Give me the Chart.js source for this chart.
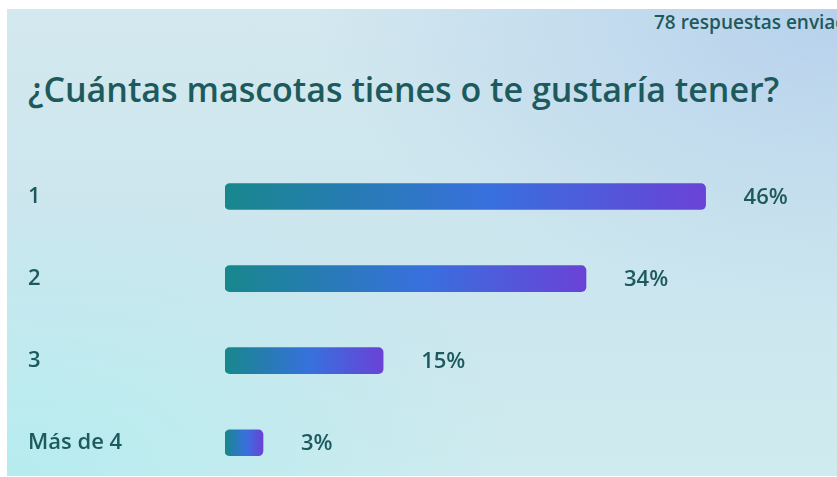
<!DOCTYPE html>
<html>
<head>
<meta charset="utf-8">
<script src="https://cdn.jsdelivr.net/npm/chart.js@4"></script>
<style>
  html, body { margin: 0; padding: 0; background: #fff; overflow: hidden; }
  body { width: 837px; height: 477px; position: relative; font-family: "Open Sans", "Noto Sans", sans-serif; }
  #card {
    position: absolute; left: 7px; top: 9px; right: 0; bottom: 1px;
    background:
      radial-gradient(ellipse 520px 300px at 100% 0%, rgba(178, 205, 236, 0.85), rgba(178, 205, 236, 0) 100%),
      radial-gradient(ellipse 520px 280px at 0% 100%, rgba(180, 236, 238, 0.95), rgba(180, 236, 238, 0) 100%),
      linear-gradient(to bottom, #d3e8ef, #cbe6ee 60%, #d0ebef);
  }
  #count { position: absolute; left: 654px; top: 9px; font-size: 19px; font-weight: 600; color: #1d5a5d; white-space: nowrap; }
  #title { position: absolute; left: 28px; top: 66px; font-size: 34px; font-weight: 600; color: #1d5a5d; white-space: nowrap; }
  #wrap { position: absolute; left: 0; top: 0; width: 837px; height: 500px; }
</style>
</head>
<body>
<div id="card"></div>
<div id="count">78 respuestas enviadas</div>
<div id="title">¿Cuántas mascotas tienes o te gustaría tener?</div>
<div id="wrap"><canvas id="chart" width="837" height="500"></canvas></div>
<script>
  // Survey answers, share of responses (%)
  const categories = ['1', '2', '3', 'Más de 4'];
  const shares = [46.2, 34.7, 15.2, 3];
  const shareLabels = ['46%', '34%', '15%', '3%'];

  const textColor = '#1d5a5d';
  const minBar = 38;

  function barGradient(ctx) {
    const chart = ctx.chart;
    const xs = chart.scales && chart.scales.x;
    if (!xs || ctx.raw == null) return '#3a6fe0';
    const x0 = xs.getPixelForValue(0);
    const x1 = Math.max(xs.getPixelForValue(ctx.raw), x0 + minBar);
    if (!isFinite(x0) || !isFinite(x1)) return '#3a6fe0';
    const g = chart.ctx.createLinearGradient(x0, 0, x1, 0);
    g.addColorStop(0, '#17878c');
    g.addColorStop(0.55, '#3870de');
    g.addColorStop(1, '#6a42d6');
    return g;
  }

  const valueLabels = {
    id: 'valueLabels',
    afterDatasetsDraw(chart) {
      const ctx = chart.ctx;
      const meta = chart.getDatasetMeta(0);
      ctx.save();
      ctx.font = '600 22px "Open Sans", "Noto Sans", sans-serif';
      ctx.fillStyle = textColor;
      ctx.textBaseline = 'middle';
      ctx.textAlign = 'left';
      meta.data.forEach((bar, i) => {
        ctx.fillText(shareLabels[i], bar.x + 38, bar.y + 1);
      });
      ctx.restore();
    }
  };

  new Chart(document.getElementById('chart').getContext('2d'), {
    type: 'bar',
    data: {
      labels: categories,
      datasets: [{
        data: shares,
        backgroundColor: barGradient,
        borderRadius: 5,
        borderSkipped: false,
        barThickness: 26,
        minBarLength: minBar
      }]
    },
    options: {
      indexAxis: 'y',
      responsive: false,
      animation: false,
      layout: { padding: { left: 28, right: 5.5, top: 155.5, bottom: 13.5 } },
      plugins: { legend: { display: false }, tooltip: { enabled: false } },
      scales: {
        x: {
          min: 0, max: 58.3,
          display: false
        },
        y: {
          grid: { display: false },
          border: { display: false },
          afterFit: s => { s.width = 197; },
          ticks: {
            crossAlign: 'far',
            color: textColor,
            font: { family: '"Open Sans", "Noto Sans", sans-serif', size: 22, weight: '600' }
          }
        }
      }
    },
    plugins: [valueLabels]
  });
</script>
</body>
</html>
